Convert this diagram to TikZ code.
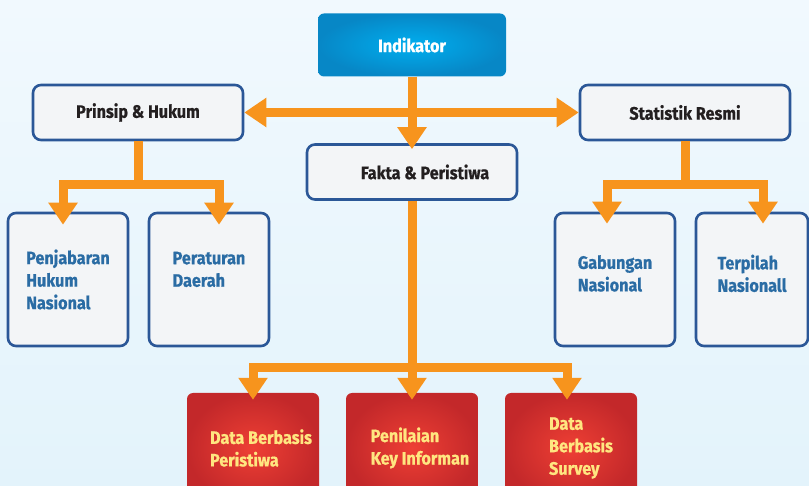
\documentclass[tikz,border=0pt]{standalone}
\usepackage{fontspec}
\setmainfont{Fira Sans}[FakeStretch=0.9,BoldFeatures={FakeBold=0.8}]
\usetikzlibrary{arrows.meta}
\definecolor{bgtop}{HTML}{F1F9FE}
\definecolor{bgbot}{HTML}{E3F3FB}
\definecolor{arrowor}{HTML}{F7941D}
\definecolor{edgeblue}{HTML}{2B5797}
\definecolor{boxgray}{HTML}{F3F5F7}
\definecolor{darktext}{HTML}{231F20}
\definecolor{textblue}{HTML}{2A6CA4}
\definecolor{textyellow}{HTML}{FFE680}
\definecolor{redin}{HTML}{EE3F34}
\definecolor{redout}{HTML}{C3282A}
\definecolor{bluein}{HTML}{00AEEF}
\definecolor{blueout}{HTML}{0787C6}

\begin{document}
\begin{tikzpicture}[x=1pt,y=-1pt,>={Triangle[width=28pt,length=22pt]},
  font=\bfseries\fontsize{18}{22.5}\selectfont,
  link/.style={draw=arrowor,line width=9pt,line join=miter},
  topbox/.style={shade,inner color=bluein,outer color=blueout,rounded corners=6pt,
    minimum width=188pt,minimum height=63pt,text=white},
  mainbox/.style={draw=edgeblue,line width=2.6pt,fill=boxgray,rounded corners=8pt,
    minimum width=210pt,minimum height=55pt,text=darktext},
  subbox/.style={mainbox,minimum width=120pt,minimum height=133pt,text=textblue,align=left},
  databox/.style={shade,inner color=redin,outer color=redout,rounded corners=6pt,
    minimum width=132pt,minimum height=110pt,text=textyellow,align=left}]
\useasboundingbox (0,0) rectangle (809,486);
\shade[top color=bgtop,bottom color=bgbot] (0,0) rectangle (809,486);

% top level
\node[topbox] (indikator) at (412,45) {Indikator};
\node[mainbox] (prinsip) at (138,112.5) {Prinsip \& Hukum};
\node[mainbox] (statistik) at (685,112.5) {Statistik Resmi};
\node[mainbox] (fakta) at (412,172) {\hspace*{26pt}Fakta \& Peristiwa};

% second level
\node[subbox] (penjabaran) at (68,279.5) {Penjabaran\\Hukum\\Nasional};
\node[subbox] (peraturan) at (209,279.5) {Peraturan\\Daerah\\[-2pt]};
\node[subbox] (gabungan) at (615,279.5) {Gabungan\\Nasional\\[-10pt]};
\node[subbox,minimum width=112pt] (terpilah) at (752,279.5) {Terpilah\\Nasionall\\[-10pt]};

% data sources
\node[databox] (dbperistiwa) at (253,448) {\hspace*{16pt}Data Berbasis\\\hspace*{16pt}Peristiwa};
\node[databox] (penilaian) at (412,448) {\hspace*{16pt}Penilaian\\\hspace*{16pt}Key Informan};
\node[databox] (dbsurvey) at (571,448) {\hspace*{20pt}Data\\\hspace*{20pt}Berbasis\\\hspace*{20pt}Survey};

% connectors
\coordinate (pk) at (prinsip.south |- 0,185);
\coordinate (sk) at (statistik.south |- 0,185);
\coordinate (fk) at (fakta.south |- 0,368);
\draw[link,<->] (prinsip.east) -- (statistik.west);
\draw[link,->,shorten >=-6pt] (indikator.south) -- (fakta.north);
\draw[link] (prinsip.south) -- (pk);
\draw[link,<->,shorten <=-13pt,shorten >=-13pt] ([xshift=-5pt]penjabaran.north) |- (pk) -| ([xshift=10pt]peraturan.north);
\draw[link] (statistik.south) -- (sk);
\draw[link,<->,shorten <=-12pt,shorten >=-12pt] ([xshift=-8pt]gabungan.north) |- (sk) -| ([xshift=11pt]terpilah.north);
\draw[link,->,shorten >=-7pt] (fakta.south) -- (penilaian.north);
\draw[link,<->,shorten <=-7pt,shorten >=-7pt] (dbperistiwa.north) |- (fk) -| ([xshift=-4pt]dbsurvey.north);
\end{tikzpicture}
\end{document}
